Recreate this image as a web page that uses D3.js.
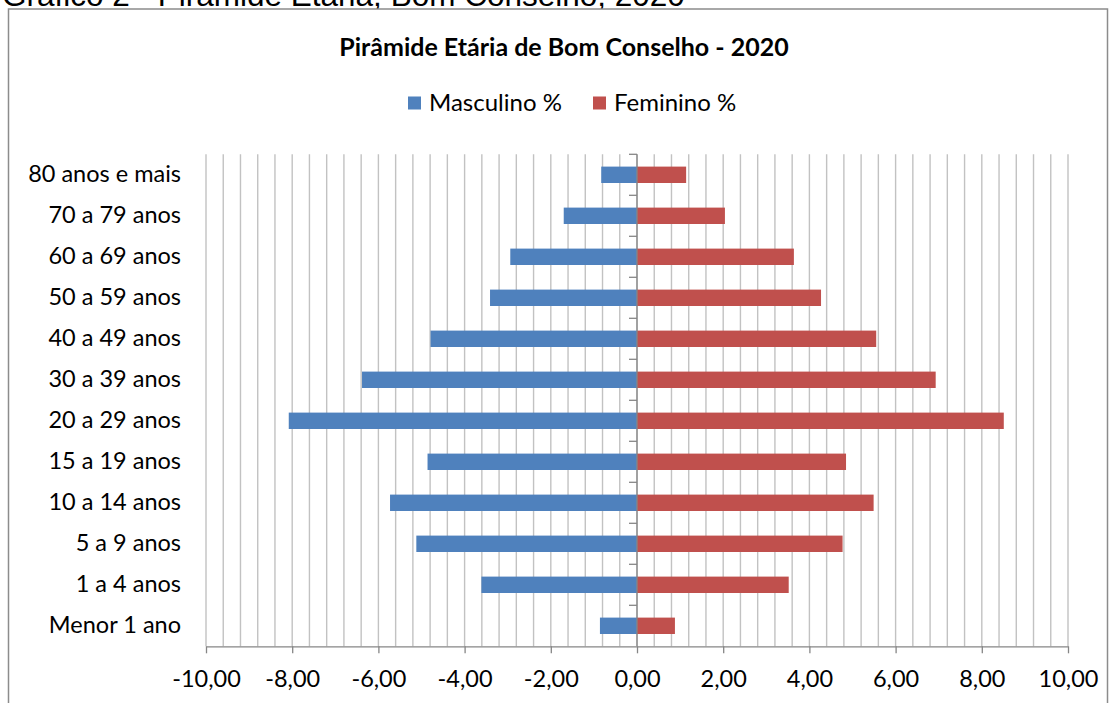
<!DOCTYPE html>
<html lang="pt">
<head>
<meta charset="utf-8">
<script src="https://cdn.jsdelivr.net/npm/d3@7"></script>
<style>
  html, body { margin: 0; padding: 0; background: #fff; overflow: hidden; }
  svg { display: block; }
</style>
</head>
<body>
<svg id="chart" width="1112" height="703"></svg>
<script>
// Faixas etárias, de baixo para cima
const categories = [
  "Menor 1 ano", "1 a 4 anos", "5 a 9 anos", "10 a 14 anos", "15 a 19 anos",
  "20 a 29 anos", "30 a 39 anos", "40 a 49 anos", "50 a 59 anos",
  "60 a 69 anos", "70 a 79 anos", "80 anos e mais"
];
// Percentual da população por sexo (masculino à esquerda, negativo)
const masculino = [-0.86, -3.61, -5.12, -5.73, -4.86, -8.08, -6.38, -4.79, -3.41, -2.94, -1.70, -0.83];
const feminino  = [ 0.88,  3.52,  4.77,  5.49,  4.85,  8.51,  6.93,  5.55,  4.27,  3.64,  2.04,  1.14];
const xTicks = [-10, -8, -6, -4, -2, 0, 2, 4, 6, 8, 10];
const seriesNames = ["Masculino %", "Feminino %"];
const caption = "Gráfico 2 - Pirâmide Etária, Bom Conselho, 2020";
const title = "Pirâmide Etária de Bom Conselho - 2020";

const colors = ["#4F81BD", "#C0504D"];
const font = "Lato, 'Open Sans', sans-serif";
const labelSize = 23.5;

const svg = d3.select("#chart");

const plot = { left: 206, right: 1068, top: 154.3, bottom: 646.3 };

const x = d3.scaleLinear().domain([-10, 10]).range([plot.left, plot.right]);
const y = d3.scaleBand()
  .domain(categories.slice().reverse())
  .range([plot.top, plot.bottom])
  .paddingInner(0.6)
  .paddingOuter(0.3);

const ptBR = d3.formatLocale({ decimal: ",", thousands: ".", grouping: [3], currency: ["R$", ""], minus: "-" });
const fmt = ptBR.format(".2f");

// Legenda do gráfico, cortada pela borda superior da página
svg.append("text")
  .attr("x", 2).attr("y", 6)
  .attr("font-family", "'Liberation Sans', Arial, sans-serif")
  .attr("font-size", 31.5)
  .attr("fill", "#000")
  .text(caption);

// Moldura da área do gráfico
svg.append("rect")
  .attr("x", 8.5).attr("y", 9)
  .attr("width", 1099).attr("height", 720)
  .attr("fill", "#fff")
  .attr("stroke", "#8c8c8c")
  .attr("stroke-width", 1.5);

// Título
svg.append("text")
  .attr("x", 564).attr("y", 56)
  .attr("text-anchor", "middle")
  .attr("font-family", font)
  .attr("font-weight", "bold")
  .attr("font-size", 25)
  .attr("fill", "#000")
  .text(title);

// Legenda das séries
const legendItems = [
  { x: 408, name: seriesNames[0], color: colors[0] },
  { x: 593, name: seriesNames[1], color: colors[1] }
];
const lg = svg.append("g").selectAll("g").data(legendItems).join("g")
  .attr("transform", d => `translate(${d.x},103)`);
lg.append("rect")
  .attr("x", 0).attr("y", -6.5)
  .attr("width", 13).attr("height", 13)
  .attr("fill", d => d.color);
lg.append("text")
  .attr("x", 21).attr("y", 0).attr("dy", "0.35em")
  .attr("font-family", font)
  .attr("font-size", 24)
  .attr("fill", "#000")
  .text(d => d.name);

// Linhas de grade verticais a cada 0,4
const gridValues = d3.range(0, 51).map(i => -10 + i * 0.4);
svg.append("g")
  .selectAll("line").data(gridValues).join("line")
  .attr("x1", d => x(d)).attr("x2", d => x(d))
  .attr("y1", plot.top).attr("y2", plot.bottom)
  .attr("stroke", "#c2c2c2")
  .attr("stroke-width", 1.4);

// Barras
const rows = categories.map((c, i) => ({ c, m: masculino[i], f: feminino[i] }));
const bars = svg.append("g");
bars.selectAll("rect.m").data(rows).join("rect")
  .attr("class", "m")
  .attr("x", d => x(d.m))
  .attr("width", d => x(0) - x(d.m))
  .attr("y", d => y(d.c))
  .attr("height", y.bandwidth())
  .attr("fill", colors[0]);
bars.selectAll("rect.f").data(rows).join("rect")
  .attr("class", "f")
  .attr("x", x(0))
  .attr("width", d => x(d.f) - x(0))
  .attr("y", d => y(d.c))
  .attr("height", y.bandwidth())
  .attr("fill", colors[1]);

// Eixo vertical no zero com marcas entre as faixas
const axisColor = "#868686";
svg.append("line")
  .attr("x1", x(0)).attr("x2", x(0))
  .attr("y1", plot.top).attr("y2", plot.bottom)
  .attr("stroke", axisColor).attr("stroke-width", 1.3);
const boundaries = d3.range(0, categories.length).map(i => plot.top + i * y.step());
svg.append("g").selectAll("line").data(boundaries).join("line")
  .attr("x1", x(0) - 8).attr("x2", x(0))
  .attr("y1", d => d).attr("y2", d => d)
  .attr("stroke", axisColor).attr("stroke-width", 1.3);

// Rótulos das faixas etárias
const yAxis = svg.append("g")
  .attr("transform", `translate(${plot.left},0)`)
  .call(d3.axisLeft(y).tickSize(0).tickPadding(25));
yAxis.select(".domain").remove();
yAxis.selectAll("text")
  .attr("font-family", font)
  .attr("font-size", labelSize)
  .attr("fill", "#000");

// Eixo horizontal
const xAxis = svg.append("g")
  .attr("transform", `translate(0,${plot.bottom})`)
  .call(d3.axisBottom(x).tickValues(xTicks).tickFormat(fmt).tickSize(7).tickSizeOuter(0).tickPadding(17));
xAxis.select(".domain").attr("stroke", axisColor).attr("stroke-width", 1.3);
xAxis.selectAll(".tick line").attr("stroke", axisColor).attr("stroke-width", 1.3);
xAxis.selectAll("text")
  .attr("font-family", font)
  .attr("font-size", labelSize)
  .attr("fill", "#000");
</script>
</body>
</html>
